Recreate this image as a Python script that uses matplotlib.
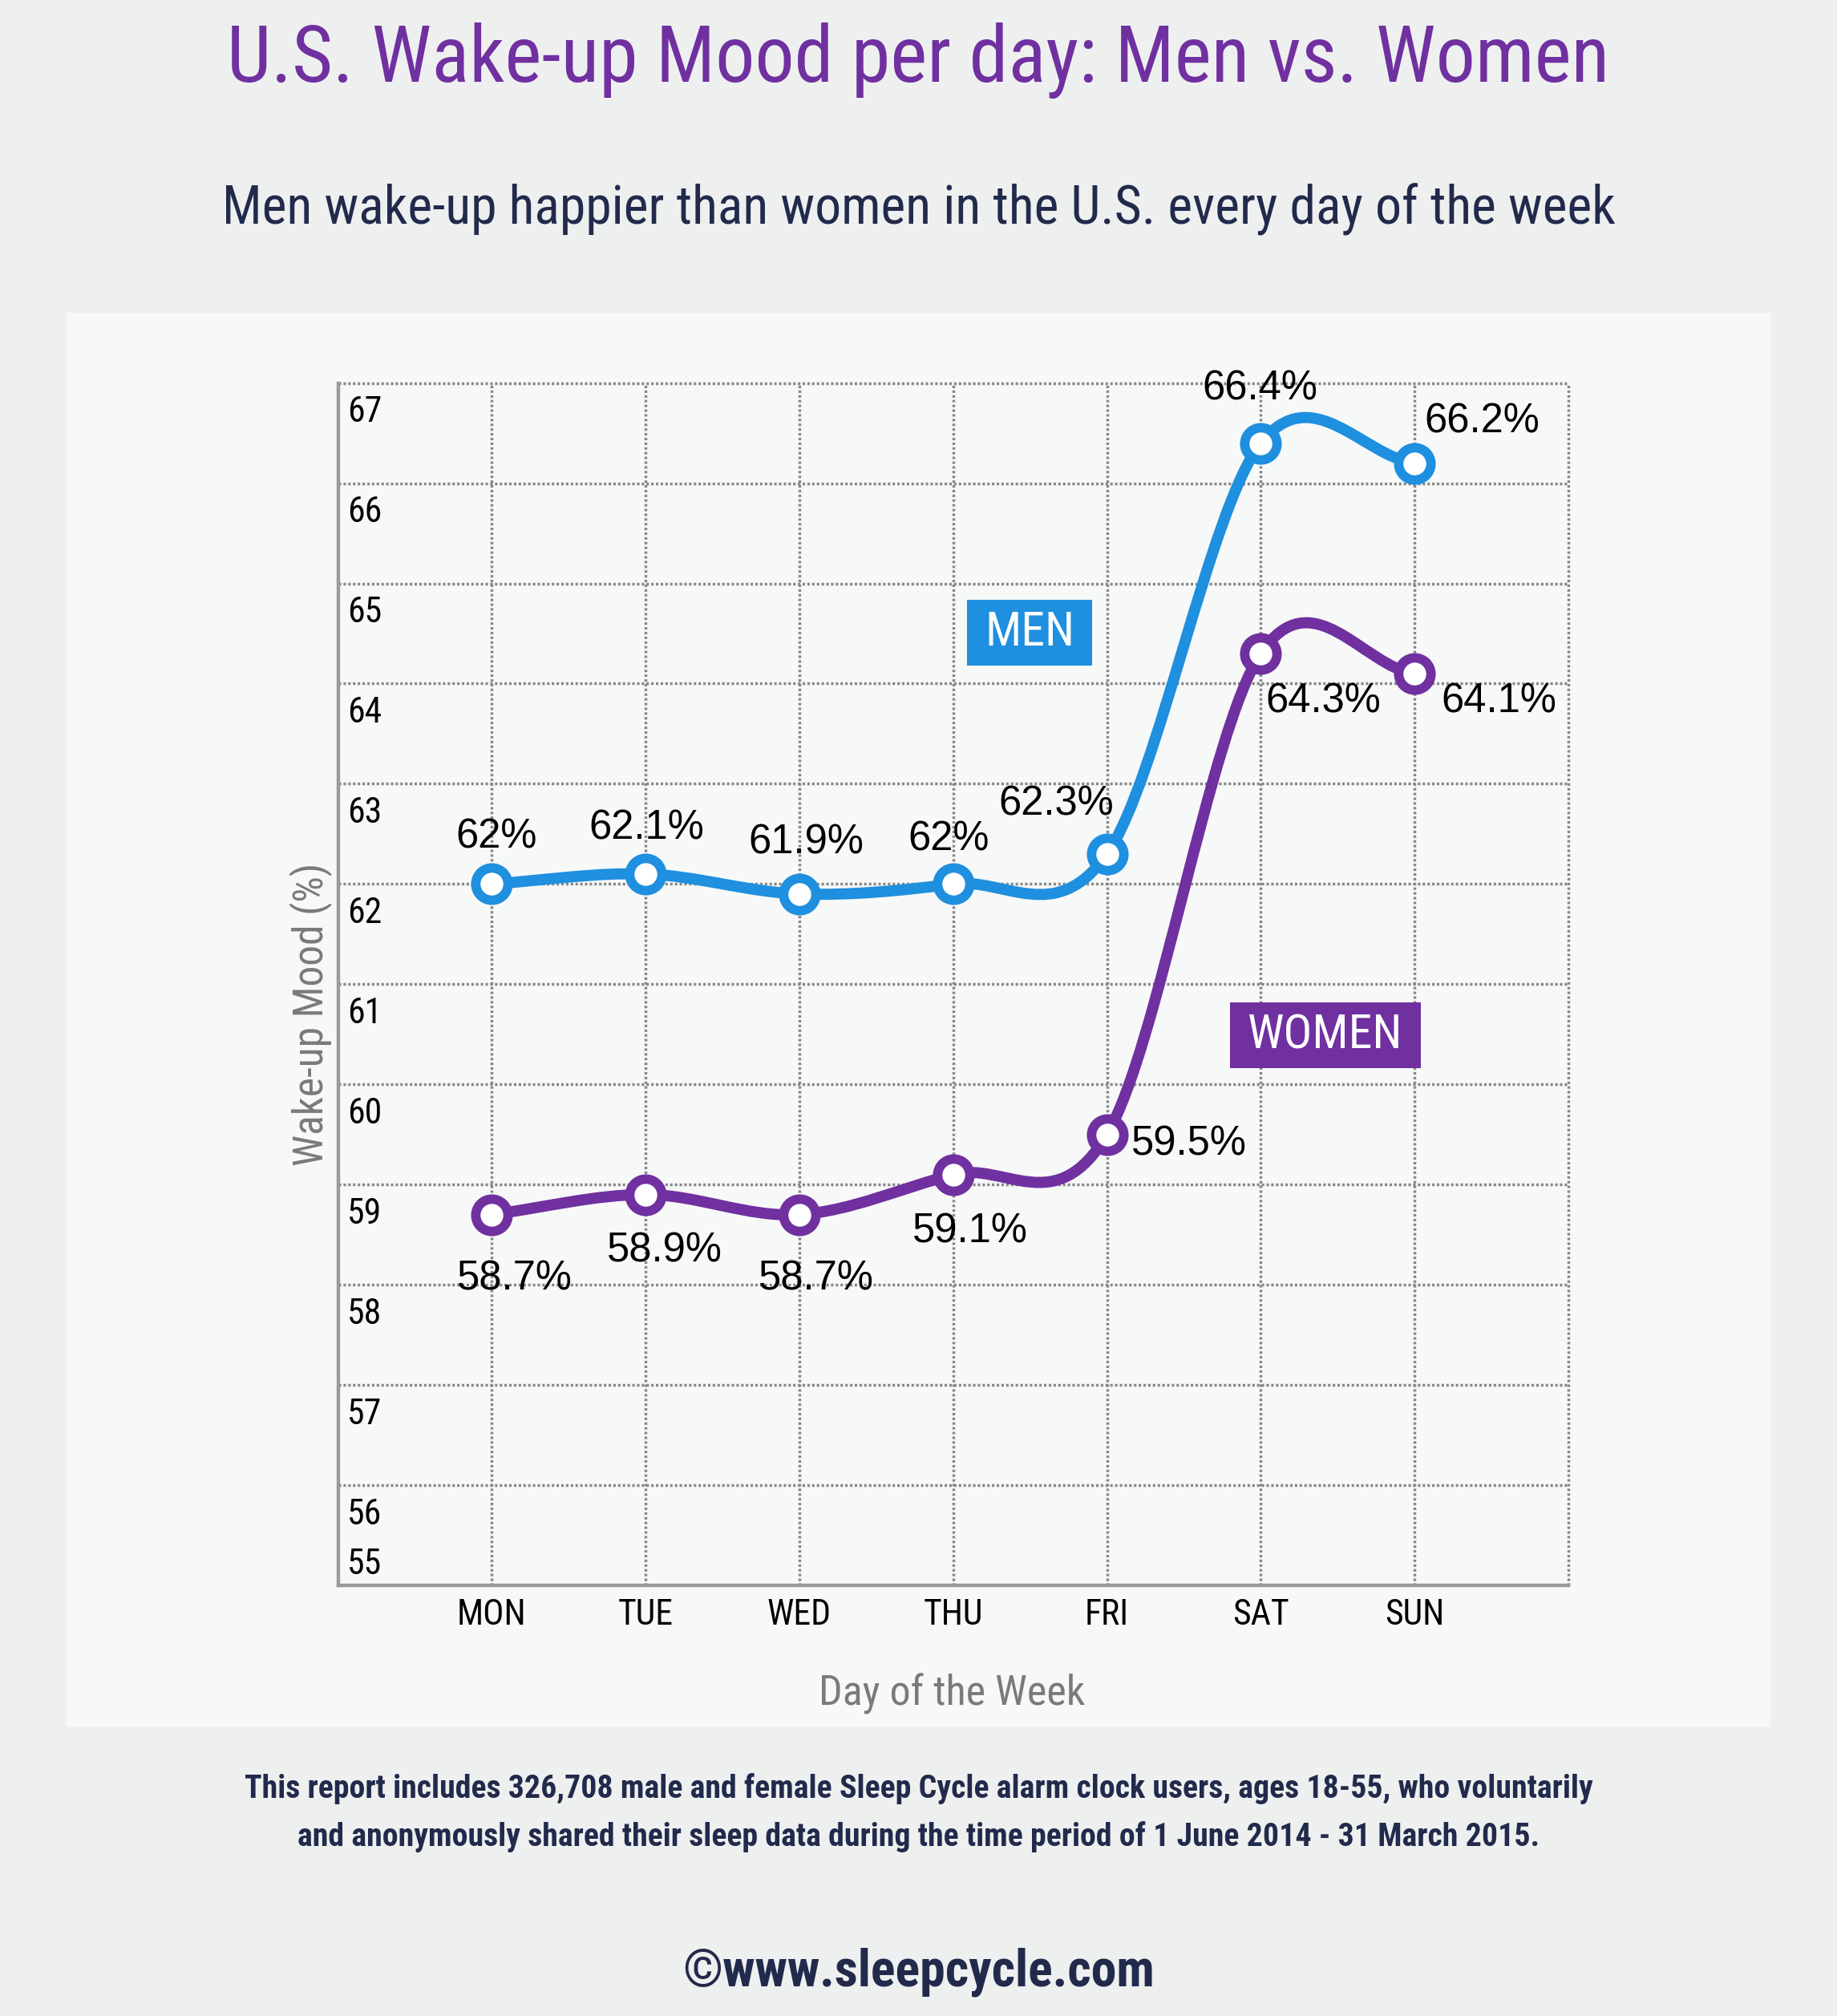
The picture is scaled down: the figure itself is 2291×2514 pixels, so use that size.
import os
import matplotlib
matplotlib.use("Agg")
import matplotlib.pyplot as plt
from matplotlib import font_manager as fm
from matplotlib.path import Path
from matplotlib.patches import PathPatch, Rectangle
import numpy as np

# data
days = ['MON', 'TUE', 'WED', 'THU', 'FRI', 'SAT', 'SUN']
men = [62.0, 62.1, 61.9, 62.0, 62.3, 66.4, 66.2]
women = [58.7, 58.9, 58.7, 59.1, 59.5, 64.3, 64.1]
y_ticks = list(range(55, 68))

# colours
BLUE = '#1f8fdf'
PURPLE = '#7030a0'
NAVY = '#222a4c'
GRID = '#888888'
SANS = 'Liberation Sans'


def find_font(weight):
    keys = ['robotocondensed', 'roboto_condensed', 'roboto-condensed',
            'notosans-condensed', 'opensans-condensed', 'opensanscondensed',
            'liberationsansnarrow', 'dejavusanscondensed']
    for key in keys:
        for f in fm.fontManager.ttflist:
            base = os.path.basename(f.fname).lower()
            if key in base and f.style == 'normal' and f.weight == weight \
                    and 'italic' not in base:
                return f.fname
    return None


REG = find_font(400)
BOLD = find_font(700) or REG
FOUND = REG is not None


def cfont(size, bold=False):
    if FOUND:
        return fm.FontProperties(fname=BOLD if bold else REG, size=size)
    # no condensed face: plain sans, a bit smaller
    return fm.FontProperties(family='DejaVu Sans', size=size * 0.8,
                             weight='bold' if bold else 'normal')


W, H = 2291, 2514
fig = plt.figure(figsize=(W / 100, H / 100), dpi=100, facecolor='#eef0f0')

# light panel behind the chart
fig.patches.append(Rectangle((83 / W, 1 - 2153 / H), 2125 / W, 1763 / H,
                             transform=fig.transFigure, facecolor='#f7f8f8',
                             edgecolor='none', zorder=-1))

ax = fig.add_axes([421.6 / W, 1 - 1976.8 / H, 1534.4 / W, 1499.1 / H])
ax.set_facecolor('none')
ax.set_xlim(-1, 7)
ax.set_ylim(55, 67)

# dotted grid
dots = dict(color=GRID, lw=2.5, linestyle=(0, (0.9, 0.8)), zorder=1, clip_on=False)
for v in y_ticks[1:]:
    ax.plot([-1, 7], [v, v], **dots)
for i in range(len(days) + 1):
    ax.plot([i, i], [55, 67], **dots)

for s in ['top', 'right']:
    ax.spines[s].set_visible(False)
for s in ['left', 'bottom']:
    ax.spines[s].set_color('#9a9a9a')
    ax.spines[s].set_linewidth(3.2)
    ax.spines[s].set_zorder(2)
ax.set_xticks([])
ax.set_yticks([])


def smooth(x, y):
    # catmull-rom style cubic bezier through the points
    n = len(x)
    m = []
    for i in range(n):
        if i == 0:
            m.append(y[1] - y[0])
        elif i == n - 1:
            m.append(y[-1] - y[-2])
        else:
            m.append((y[i + 1] - y[i - 1]) / 2)
    verts = [(x[0], y[0])]
    codes = [Path.MOVETO]
    for i in range(n - 1):
        verts += [(x[i] + 1 / 3, y[i] + m[i] / 3),
                  (x[i + 1] - 1 / 3, y[i + 1] - m[i + 1] / 3),
                  (x[i + 1], y[i + 1])]
        codes += [Path.CURVE4] * 3
    return Path(verts, codes)


x = np.arange(len(days))
for vals, col in [(men, BLUE), (women, PURPLE)]:
    ax.add_patch(PathPatch(smooth(x, vals), facecolor='none', edgecolor=col,
                           lw=10, capstyle='round', joinstyle='round', zorder=3))
    ax.plot(x, vals, 'o', ms=29, mfc='white', mec=col, mew=8.5, zorder=4)

# value labels (offsets in pixels to the text baseline)
men_off = [(6, 45), (1, 43), (8, 50), (-6, 42), (-63, 48), (-1, 54), (84, 38)]
women_off = [(28, -94), (24, -84), (21, -94), (21, -85), (102, -26), (78, -74), (105, -49)]
for vals, offs in [(men, men_off), (women, women_off)]:
    for xi, v, (dx, dy) in zip(x, vals, offs):
        ax.annotate(f'{v:g}%', (xi, v), xytext=(dx, dy), textcoords='offset pixels',
                    ha='center', va='baseline', fontsize=36.5, family=SANS,
                    color='black', zorder=5)

# y tick labels sit inside the axis, under each grid line
for v in y_ticks:
    pos = v - 0.39 if v > 55 else v + 0.11
    ax.text(0.0075, pos, str(v), transform=ax.get_yaxis_transform(),
            ha='left', va='baseline', fontproperties=cfont(31.5), color='black')

for xi, d in zip(x, days):
    ax.text(xi, -0.033, d, transform=ax.get_xaxis_transform(), ha='center',
            va='baseline', fontproperties=cfont(31.5), color='black')

# legend boxes
for (x0, y0), w, txt, col in [((3.09, 64.18), 0.815, 'MEN', BLUE),
                              ((4.80, 60.16), 1.24, 'WOMEN', PURPLE)]:
    ax.add_patch(Rectangle((x0, y0), w, 0.66, facecolor=col, edgecolor='none', zorder=4))
    ax.text(x0 + w / 2, y0 + 0.33, txt, ha='center', va='center',
            fontproperties=cfont(43), color='white', zorder=5)

# axis titles
fig.text(388 / W, 1 - 1265 / H, 'Wake-up Mood (%)', rotation=90, ha='center',
         va='center', fontproperties=cfont(37), color='#7a7a7a')
fig.text(1187 / W, 1 - 2127 / H, 'Day of the Week', ha='center', va='baseline',
         fontproperties=cfont(37.5), color='#7a7a7a')

# headings
fig.text(0.5, 1 - 102 / H, 'U.S. Wake-up Mood per day: Men vs. Women', ha='center',
         va='baseline', fontproperties=cfont(70.7), color=PURPLE)
fig.text(0.5, 1 - 280 / H, 'Men wake-up happier than women in the U.S. every day of the week',
         ha='center', va='baseline', fontproperties=cfont(47.3), color=NAVY)

# footnote
fig.text(0.5, 1 - 2242 / H,
         'This report includes 326,708 male and female Sleep Cycle alarm clock users, ages 18-55, who voluntarily',
         ha='center', va='baseline', fontproperties=cfont(28.7, True), color=NAVY)
fig.text(0.5, 1 - 2302 / H,
         'and anonymously shared their sleep data during the time period of 1 June 2014 - 31 March 2015.',
         ha='center', va='baseline', fontproperties=cfont(28.7, True), color=NAVY)
fig.text(0.5, 1 - 2477 / H, '\u00a9www.sleepcycle.com', ha='center', va='baseline',
         fontproperties=cfont(46, True), color=NAVY)

fig.savefig('out.png', dpi=100, facecolor=fig.get_facecolor())
